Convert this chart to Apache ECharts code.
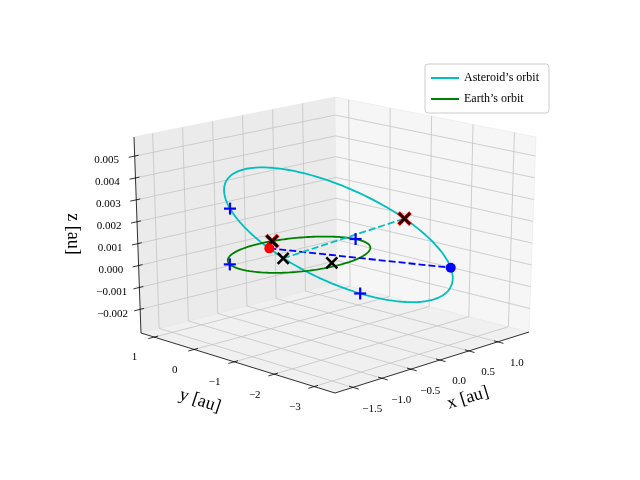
<!DOCTYPE html>
<html>
<head>
<meta charset="utf-8">
<script src="https://cdn.jsdelivr.net/npm/echarts@6/dist/echarts.min.js"></script>
<style>html,body{margin:0;padding:0;background:#fff}#chart{width:640px;height:480px}</style>
</head>
<body>
<div id="chart"></div>
<script>
// axis limits and ticks
const xLim = [-1.81, 1.54];
const yLim = [-3.52, 1.33];
const zLim = [-0.00308, 0.00587];
const xTicks = [-1.5, -1.0, -0.5, 0.0, 0.5, 1.0];
const yTicks = [1, 0, -1, -2, -3];
const zTicks = [-0.002, -0.001, 0.000, 0.001, 0.002, 0.003, 0.004, 0.005];

// orbits: earth circle radius (au), asteroid ellipse center + conjugate semi-axes
const earthRadius = 1.0;
const asteroidCenter = [-0.2, -1.294, 0.00161];
const asteroidAxisA = [1.2, -1.067, -0.00234];
const asteroidAxisB = [0.2, 0.292, -0.0026];

// markers (earth ones by orbit angle, asteroid ones by orbit angle, others by position)
const earthPlusDeg = [159.7, 3.3];
const asteroidPlusDeg = [162, 79.5];
const earthCrossDeg = [77.8];
const blackCross = [[-0.27, 0.0, 0], [0.0, -0.81, 0]];
const asteroidCrossDeg = [-55.5];
const redDot = [-0.058, 0.653, 0];
const blueDotDeg = -11.5;

// screen corners of the box: [fx][fy][fz]
const corners = {
    '000': [335, 393], '100': [529, 332], '010': [141, 333], '110': [337, 283],
    '001': [335, 188], '101': [536, 137], '011': [134, 137], '111': [335, 97]
};
function frac(v, lim) { return (v - lim[0]) / (lim[1] - lim[0]); }
function projF(fx, fy, fz) {
    let out = [0, 0];
    for (const key in corners) {
        const w = (key[0] === '1' ? fx : 1 - fx) * (key[1] === '1' ? fy : 1 - fy) * (key[2] === '1' ? fz : 1 - fz);
        out[0] += w * corners[key][0];
        out[1] += w * corners[key][1];
    }
    return out;
}
function proj(p) { return projF(frac(p[0], xLim), frac(p[1], yLim), frac(p[2], zLim)); }
function earthAt(deg) {
    const t = deg * Math.PI / 180;
    return [earthRadius * Math.cos(t), earthRadius * Math.sin(t), 0];
}
function asteroidAt(deg) {
    const t = deg * Math.PI / 180, c = Math.cos(t), s = Math.sin(t);
    return [0, 1, 2].map(k => asteroidCenter[k] + c * asteroidAxisA[k] + s * asteroidAxisB[k]);
}

let earthPts = [], asteroidPts = [];
for (let d = 0; d <= 360; d += 2) {
    earthPts.push(proj(earthAt(d)));
    asteroidPts.push(proj(asteroidAt(d)));
}

// panes
const panes = [
    { pts: [[0, 0, 0], [1, 0, 0], [1, 1, 0], [0, 1, 0]], fill: '#f0f0f0' },
    { pts: [[0, 1, 0], [1, 1, 0], [1, 1, 1], [0, 1, 1]], fill: '#ebebeb' },
    { pts: [[1, 0, 0], [1, 1, 0], [1, 1, 1], [1, 0, 1]], fill: '#f6f6f6' }
];
let grid = [];
xTicks.forEach(v => { const f = frac(v, xLim);
    grid.push([[f, 0, 0], [f, 1, 0]], [[f, 1, 0], [f, 1, 1]]); });
yTicks.forEach(v => { const f = frac(v, yLim);
    grid.push([[0, f, 0], [1, f, 0]], [[1, f, 0], [1, f, 1]]); });
zTicks.forEach(v => { const f = frac(v, zLim);
    grid.push([[0, 1, f], [1, 1, f]], [[1, 1, f], [1, 0, f]]); });

let axisLines = [[[0, 0, 0], [1, 0, 0]], [[0, 0, 0], [0, 1, 0]], [[0, 1, 0], [0, 1, 1]]];
let texts = [];
const minus = s => s.replace('-', '\u2212');
xTicks.forEach(v => { const f = frac(v, xLim);
    axisLines.push([[f, -0.03, 0], [f, 0.02, 0]]);
    const p = projF(f, -0.1, 0);
    texts.push({ p: [p[0], p[1] + 16], t: minus(v.toFixed(1)) }); });
yTicks.forEach(v => { const f = frac(v, yLim);
    axisLines.push([[-0.03, f, 0], [0.02, f, 0]]);
    const p = projF(-0.1, f, 0);
    texts.push({ p: [p[0], p[1] + 15], t: minus(String(v)) }); });
zTicks.forEach(v => { const f = frac(v, zLim);
    axisLines.push([[-0.03, 1, f], [0.02, 1, f]]);
    const p = projF(-0.14, 1, f);
    texts.push({ p: [p[0], p[1] - 2], t: minus(v.toFixed(3)) }); });

const font = '"Liberation Serif", "DejaVu Serif", serif';

function lineSeries(name, pts, color, dashed) {
    return { name: name, type: 'line', data: pts, showSymbol: false, silent: true,
        itemStyle: { color: color },
        lineStyle: { color: color, width: 1.8, type: dashed ? [7, 3] : 'solid' }, z: 5 };
}
function markerSeries(pts, shape, color, r, lw) {
    return { type: 'custom', coordinateSystem: 'cartesian2d', data: pts, z: 10,
        renderItem: (params, api) => {
            const c = api.coord([api.value(0), api.value(1)]);
            if (shape === 'dot') return { type: 'circle', shape: { cx: c[0], cy: c[1], r: r }, style: { fill: color } };
            const segs = shape === 'plus' ? [[-r, 0, r, 0], [0, -r, 0, r]] : [[-r, -r, r, r], [-r, r, r, -r]];
            return { type: 'group', children: segs.map(s => ({ type: 'line',
                shape: { x1: c[0] + s[0], y1: c[1] + s[1], x2: c[0] + s[2], y2: c[1] + s[3] },
                style: { stroke: color, lineWidth: lw } })) };
        } };
}

const bluePlusPts = earthPlusDeg.map(d => proj(earthAt(d))).concat(asteroidPlusDeg.map(d => proj(asteroidAt(d))));
const redPts = earthCrossDeg.map(d => proj(earthAt(d))).concat(asteroidCrossDeg.map(d => proj(asteroidAt(d))));
const blackPts = redPts.concat(blackCross.map(proj));
const blueDotPt = proj(asteroidAt(blueDotDeg));

var myChart = echarts.init(document.getElementById('chart'));
var option = {
    animation: false,
    grid: { left: 0, right: 0, top: 0, bottom: 0 },
    xAxis: { type: 'value', min: 0, max: 640, show: false },
    yAxis: { type: 'value', min: 0, max: 480, inverse: true, show: false },
    legend: {
        left: 425, top: 64, orient: 'vertical', itemWidth: 28, itemHeight: 2, itemGap: 9,
        padding: [8, 10, 8, 6], borderColor: '#cccccc', borderWidth: 1, borderRadius: 3,
        backgroundColor: 'rgba(255,255,255,0.8)',
        textStyle: { fontFamily: font, fontSize: 12, color: '#000' },
        icon: 'rect',
        data: ["Asteroid\u2019s orbit", "Earth\u2019s orbit"]
    },
    series: [
        { type: 'custom', data: panes.map((p, i) => [0, 0, i]), z: 1, silent: true,
          renderItem: (params, api) => ({ type: 'polygon',
            shape: { points: panes[params.dataIndex].pts.map(q => projF(q[0], q[1], q[2])) },
            style: { fill: panes[params.dataIndex].fill, stroke: '#e4e4e4', lineWidth: 0.5 } }) },
        { type: 'custom', data: grid.map((g, i) => [0, 0, i]), z: 2, silent: true,
          renderItem: (params, api) => { const g = grid[params.dataIndex];
            const a = projF(...g[0]), b = projF(...g[1]);
            return { type: 'line', shape: { x1: a[0], y1: a[1], x2: b[0], y2: b[1] },
                     style: { stroke: '#c4c4c4', lineWidth: 0.8 } }; } },
        { type: 'custom', data: axisLines.map((g, i) => [0, 0, i]), z: 3, silent: true,
          renderItem: (params, api) => { const g = axisLines[params.dataIndex];
            const a = projF(...g[0]), b = projF(...g[1]);
            return { type: 'line', shape: { x1: a[0], y1: a[1], x2: b[0], y2: b[1] },
                     style: { stroke: '#000', lineWidth: 0.8 } }; } },
        { type: 'custom', data: texts.map((t, i) => [0, 0, i]), z: 3, silent: true,
          renderItem: (params, api) => { const t = texts[params.dataIndex];
            return { type: 'text', x: t.p[0], y: t.p[1],
                     style: { text: t.t, font: '11px ' + font, fill: '#000', align: 'center', verticalAlign: 'middle' } }; } },
        lineSeries("Asteroid\u2019s orbit", asteroidPts, '#00bfbf', false),
        lineSeries("Earth\u2019s orbit", earthPts, '#008000', false),
        lineSeries('', [proj(redDot), blueDotPt], '#0000ff', true),
        lineSeries('', [proj(blackCross[0]), proj(asteroidAt(asteroidCrossDeg[0]))], '#00bfbf', true),
        markerSeries(bluePlusPts, 'plus', '#0000ff', 6, 2.2),
        markerSeries(redPts, 'cross', '#ff0000', 6, 3.8),
        markerSeries(blackPts, 'cross', '#000000', 5.5, 2.6),
        markerSeries([proj(redDot)], 'dot', '#ff0000', 5, 0),
        markerSeries([blueDotPt], 'dot', '#0000ff', 5, 0)
    ],
    graphic: [
        { type: 'text', x: 468, y: 398, rotation: 0.3, style: { text: 'x [au]', font: '18px ' + font, fill: '#000', align: 'center', verticalAlign: 'middle' } },
        { type: 'text', x: 200, y: 401, rotation: -0.32, style: { text: 'y [au]', font: '18px ' + font, fill: '#000', align: 'center', verticalAlign: 'middle' } },
        { type: 'text', x: 73, y: 234, rotation: -Math.PI / 2, style: { text: 'z [au]', font: '18px ' + font, fill: '#000', align: 'center', verticalAlign: 'middle' } }
    ]
};
myChart.setOption(option);
</script>
</body>
</html>
